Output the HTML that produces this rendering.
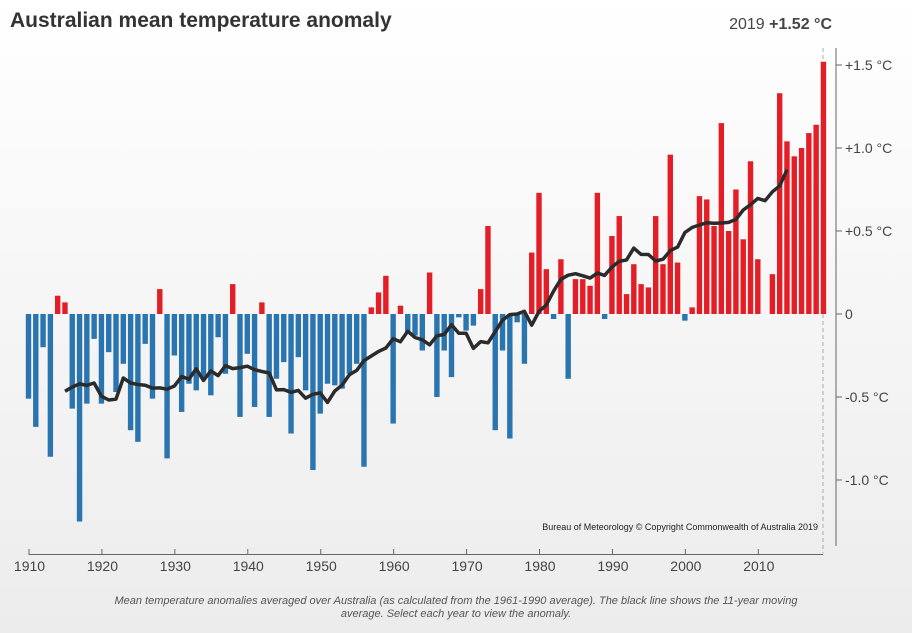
<!DOCTYPE html>
<html><head><meta charset="utf-8"><style>
body{margin:0;width:912px;height:633px;overflow:hidden;background:linear-gradient(#ffffff,#ececec);font-family:"Liberation Sans",sans-serif}
svg{position:absolute;left:0;top:0}
</style></head><body>
<svg width="912" height="633" id="chart">
<text x="10" y="27" font-size="21" font-weight="bold" fill="#333">Australian mean temperature anomaly</text>
<text x="832" y="29" font-size="16" fill="#444" text-anchor="end">2019 <tspan font-weight="bold">+1.52 °C</tspan></text>
<line x1="836" y1="48" x2="836" y2="546" stroke="#666"/>
<line x1="823" y1="48" x2="823" y2="553" stroke="#aaa" stroke-dasharray="4,3"/>
<line x1="29" y1="554.5" x2="823" y2="554.5" stroke="#666"/>
<g id="bars"></g><g id="axes"></g>
<text x="818" y="530" font-size="9" fill="#222" text-anchor="end">Bureau of Meteorology © Copyright Commonwealth of Australia 2019</text>
<text x="456" y="604" font-size="11" font-style="italic" fill="#555" text-anchor="middle">Mean temperature anomalies averaged over Australia (as calculated from the 1961-1990 average). The black line shows the 11-year moving</text>
<text x="456" y="617" font-size="11" font-style="italic" fill="#555" text-anchor="middle">average. Select each year to view the anomaly.</text>
</svg>
<script>
const startYear = 1910;
const anomalies = [-0.51,-0.68,-0.20,-0.86,0.11,0.07,-0.57,-1.25,-0.54,-0.15,
-0.54,-0.23,-0.47,-0.30,-0.70,-0.77,-0.18,-0.51,0.15,-0.87,
-0.25,-0.59,-0.42,-0.46,-0.38,-0.49,-0.14,-0.36,0.18,-0.62,
-0.24,-0.56,0.07,-0.62,-0.39,-0.29,-0.72,-0.26,-0.46,-0.94,
-0.60,-0.42,-0.43,-0.45,-0.36,-0.30,-0.92,0.04,0.13,0.23,
-0.66,0.05,-0.11,-0.13,-0.22,0.25,-0.50,-0.22,-0.38,-0.02,
-0.10,-0.07,0.15,0.53,-0.70,-0.22,-0.75,-0.05,-0.30,0.37,
0.73,0.27,-0.03,0.33,-0.39,0.21,0.21,0.17,0.73,-0.03,
0.47,0.59,0.12,0.30,0.18,0.16,0.59,0.30,0.96,0.31,
-0.04,0.04,0.71,0.69,0.53,1.15,0.50,0.75,0.45,0.92,
0.33,0.0,0.24,1.33,1.04,0.95,1.00,1.09,1.14,1.52];
const yTicks = [1.5,1.0,0.5,0,-0.5,-1.0];
const yTickLabels = ["+1.5 °C","+1.0 °C","+0.5 °C","0","-0.5 °C","-1.0 °C"];
const xTicks = [1910,1920,1930,1940,1950,1960,1970,1980,1990,2000,2010];
const NS="http://www.w3.org/2000/svg";
const xs = y => 28.5 + (y-1910)*7.293;
const ys = v => 314 - v*166;
const bars=document.getElementById('bars'), axes=document.getElementById('axes');
function mk(tag,attrs,parent){const e=document.createElementNS(NS,tag);for(const k in attrs)e.setAttribute(k,attrs[k]);parent.appendChild(e);return e;}
anomalies.forEach((v,i)=>{
  const yr=startYear+i, x=xs(yr);
  const r=mk('rect',{x:x-2.7,width:5.4,y:Math.min(ys(v),ys(0)),height:Math.max(Math.abs(ys(v)-ys(0)),0.01),fill:v>=0?'#e41e26':'#2a74b0'},bars);
  
  
});
let pts=[];
for(let i=5;i<anomalies.length-5;i++){let s=0;for(let j=i-5;j<=i+5;j++)s+=anomalies[j];pts.push(xs(startYear+i).toFixed(1)+','+ys(s/11).toFixed(1));}
const line=mk('polyline',{points:pts.join(' '),fill:'none',stroke:'#2b2b2b','stroke-width':3.5,'stroke-linejoin':'round'},bars);


yTicks.forEach((t,i)=>{
  const tk=mk('line',{x1:836,x2:842,y1:ys(t),y2:ys(t),stroke:'#666'},axes);
  
  
  const tx=mk('text',{x:845,y:ys(t)+5,'font-size':14,fill:'#444'},axes);
  tx.textContent=yTickLabels[i];
  
  
});
xTicks.forEach(t=>{
  const tk=mk('line',{x1:xs(t)+0.5,x2:xs(t)+0.5,y1:549,y2:555,stroke:'#666'},axes);
  
  
  const tx=mk('text',{x:xs(t)+1,y:571,'font-size':14,fill:'#444','text-anchor':'middle'},axes);
  tx.textContent=t;
  
  
});
</script>
</body></html>
